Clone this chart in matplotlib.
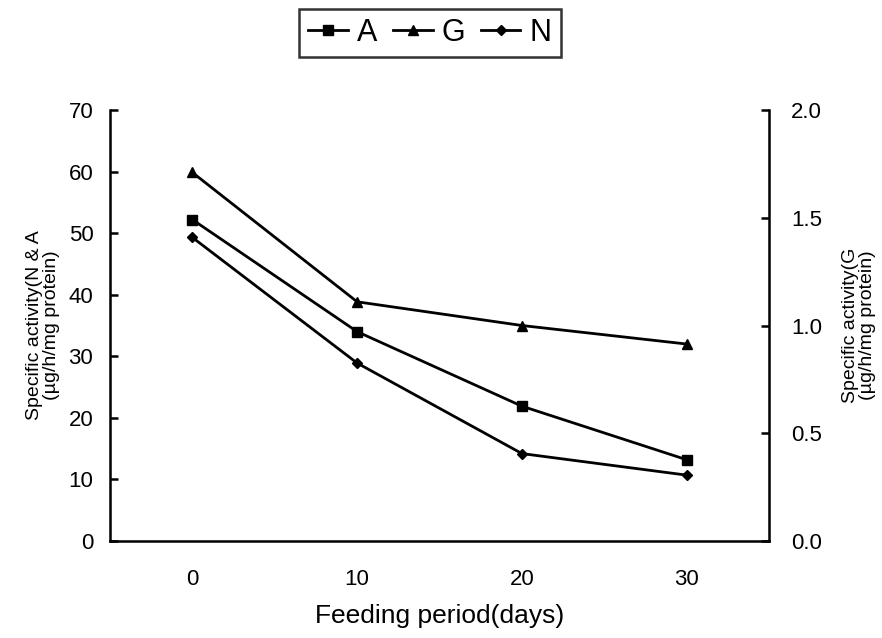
import matplotlib
matplotlib.use("Agg")
import matplotlib.pyplot as plt

plt.rcParams['font.family'] = ['Liberation Sans', 'DejaVu Sans']

days = [0, 10, 20, 30]
A_vals = [52.2, 34.0, 21.9, 13.2]
N_vals = [49.3, 28.9, 14.2, 10.7]
G_vals = [1.71, 1.11, 1.00, 0.914]
left_ticks = [0, 10, 20, 30, 40, 50, 60, 70]
right_ticks = [0.0, 0.5, 1.0, 1.5, 2.0]

fig = plt.figure(figsize=(8.82, 6.38), dpi=100)
ax = fig.add_axes([0.1247, 0.152, 0.7473, 0.6756])
ax2 = ax.twinx()

lA, = ax.plot(days, A_vals, color='black', lw=2, marker='s', ms=7, label='A')
lN, = ax.plot(days, N_vals, color='black', lw=2, marker='D', ms=5.5, label='N')
lG, = ax2.plot(days, G_vals, color='black', lw=2, marker='^', ms=7, label='G')

ax.set_xlim(-5, 35)
ax.set_ylim(0, 70)
ax2.set_ylim(0, 2.0)
ax.set_xticks(days)
ax.set_yticks(left_ticks)
ax2.set_yticks(right_ticks)
ax2.set_yticklabels([f"{v:.1f}" for v in right_ticks])

for a in (ax, ax2):
    a.spines['top'].set_visible(False)
    for s in a.spines.values():
        s.set_linewidth(1.8)
ax.spines['right'].set_visible(False)
ax2.spines['left'].set_visible(False)
ax2.spines['bottom'].set_visible(False)

ax.tick_params(axis='y', direction='in', length=6, width=1.8, labelsize=16, pad=12)
ax2.tick_params(axis='y', direction='in', length=6, width=1.8, labelsize=16, pad=16)
ax.tick_params(axis='x', length=0, labelsize=16, pad=20)

ax.set_xlabel('Feeding period(days)', fontsize=19, labelpad=10)
ax.set_ylabel('Specific activity(N & A\n(µg/h/mg protein)', fontsize=14, labelpad=6, linespacing=1.0)
ax2.set_ylabel('Specific activity(G\n(µg/h/mg protein)', fontsize=14, labelpad=14,
               linespacing=1.0, rotation=90)

leg = fig.legend([lA, lG, lN], ['A', 'G', 'N'], loc='center', bbox_to_anchor=(0.4875, 0.948),
                 ncol=3, fontsize=22, frameon=True, fancybox=False, handlelength=1.3,
                 handletextpad=0.3, columnspacing=0.5, borderpad=0.3, borderaxespad=0)
leg.get_frame().set_edgecolor('black')
leg.get_frame().set_linewidth(1.8)

fig.savefig('out.png', dpi=100)
